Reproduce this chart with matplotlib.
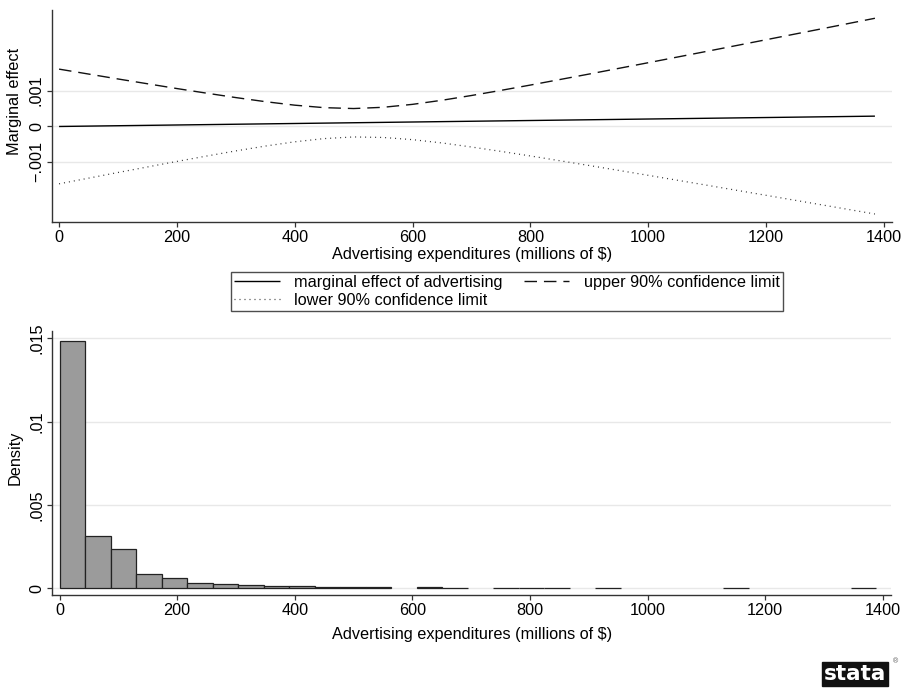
import matplotlib
matplotlib.use("Agg")
import matplotlib.pyplot as plt
import numpy as np

plt.rcParams['font.family'] = ['Liberation Sans', 'DejaVu Sans']

# Marginal effect of advertising and its 90% confidence band
adv = [0, 100, 200, 250, 300, 350, 400, 450, 500, 550, 600, 650, 700, 750,
       800, 900, 1000, 1100, 1200, 1300, 1385]
marginal = [-0.000010, 0.000011, 0.000032, 0.0000425, 0.000053, 0.0000635,
            0.000074, 0.0000845, 0.000095, 0.0001055, 0.000116, 0.0001265,
            0.000137, 0.0001475, 0.000158, 0.000179, 0.000200, 0.000221,
            0.000242, 0.000263, 0.000281]
upper = [0.001605, 0.001328, 0.001058, 0.000929, 0.000804, 0.000689, 0.000590,
         0.000520, 0.000495, 0.000530, 0.000613, 0.000728, 0.000862, 0.001006,
         0.001156, 0.001467, 0.001785, 0.002107, 0.002432, 0.002758, 0.003037]
lower = [-0.001625, -0.001306, -0.000994, -0.000844, -0.000698, -0.000562,
         -0.000442, -0.000351, -0.000305, -0.000319, -0.000381, -0.000474,
         -0.000588, -0.000711, -0.000840, -0.001109, -0.001385, -0.001665,
         -0.001948, -0.002232, -0.002475]

# Histogram of advertising expenditures (32 bins)
bin_width = 43.4
density = [0.01486, 0.00316, 0.00234, 0.00084, 0.00060, 0.00030, 0.00024,
           0.00018, 0.00012, 0.00012, 0.00006, 0.00006, 0.00006, 0.0,
           0.00008, 0.00004, 0.0, 0.00004, 0.00004, 0.00004, 0.0, 0.00003,
           0.0, 0.0, 0.0, 0.0, 0.00003, 0.0, 0.0, 0.0, 0.0, 0.00003]

x_ticks = [0, 200, 400, 600, 800, 1000, 1200, 1400]
me_ticks = [-0.001, 0, 0.001]
me_ticklabels = ['\u2212.001', '0', '.001']
dens_ticks = [0, 0.005, 0.01, 0.015]
dens_ticklabels = ['0', '.005', '.01', '.015']
xlabel = 'Advertising expenditures (millions of $)'

W, H = 912, 688
fig = plt.figure(figsize=(W / 100, H / 100), dpi=100)
fig.patch.set_facecolor('white')

FS = 11.7
AX_COL = '#333333'
GRID_COL = '#e8e8e8'


def style_axes(ax):
    for s in ('top', 'right'):
        ax.spines[s].set_visible(False)
    for s in ('left', 'bottom'):
        ax.spines[s].set_color(AX_COL)
        ax.spines[s].set_linewidth(1.0)
    ax.tick_params(axis='both', direction='out', length=3.8, width=0.9,
                   color=AX_COL, labelsize=FS, labelcolor='black')
    ax.tick_params(axis='x', pad=2.0)
    ax.tick_params(axis='y', pad=2.0)
    ax.yaxis.grid(True, color=GRID_COL, linewidth=1.0)
    ax.xaxis.grid(False)
    ax.set_axisbelow(True)


def px_axes(l, t, r, b):
    return fig.add_axes([l / W, 1 - b / H, (r - l) / W, (b - t) / H])


# ---- top panel: marginal effect ----
ax1 = px_axes(52, 10, 892, 222)
style_axes(ax1)
l_me, = ax1.plot(adv, marginal, color='black', lw=1.0, solid_capstyle='butt')
l_up, = ax1.plot(adv, upper, color='#111111', lw=1.0, linestyle=(0, (9, 5)))
l_lo, = ax1.plot(adv, lower, color='#333333', lw=0.9, linestyle=(0, (0.8, 3.2)))
ax1.set_xlim(-12, 1414)
ax1.set_ylim(-0.0027, 0.00327)
ax1.set_xticks(x_ticks)
ax1.set_yticks(me_ticks)
ax1.set_yticklabels(me_ticklabels, rotation=90, va='center')
fig.text(472 / W, 1 - 255 / H, xlabel, ha='center', va='center', fontsize=FS)
fig.text(15 / W, 1 - 101 / H, 'Marginal effect', ha='center', va='center',
         rotation=90, fontsize=FS)

# legend
leg = fig.legend([l_me, l_lo, l_up],
                 ['marginal effect of advertising', 'lower 90% confidence limit',
                  'upper 90% confidence limit'],
                 loc='center', bbox_to_anchor=(507 / W, 1 - 291.5 / H),
                 ncol=2, fontsize=FS, frameon=True, fancybox=False,
                 handlelength=2.8, handletextpad=0.9, columnspacing=1.3,
                 labelspacing=0.2, borderpad=0.2, borderaxespad=0)
leg.get_frame().set_edgecolor('#222222')
leg.get_frame().set_linewidth(1.0)

# ---- bottom panel: histogram (empty bins are not drawn) ----
ax2 = px_axes(52.5, 331, 891, 595)
style_axes(ax2)
left_edges = np.arange(len(density)) * bin_width
filled = [i for i, d in enumerate(density) if d > 0]
ax2.bar([left_edges[i] for i in filled], [density[i] for i in filled],
        width=bin_width, align='edge',
        facecolor='#9b9b9b', edgecolor='#222222', linewidth=0.9, zorder=2)
ax2.set_xlim(-12, 1414)
ax2.set_ylim(-0.0004, 0.01544)
ax2.set_xticks(x_ticks)
ax2.set_yticks(dens_ticks)
ax2.set_yticklabels(dens_ticklabels, rotation=90, va='center')
fig.text(472 / W, 1 - 634 / H, xlabel, ha='center', va='center', fontsize=FS)
fig.text(15 / W, 1 - 458 / H, 'Density', ha='center', va='center',
         rotation=90, fontsize=FS)

# logo
fig.text(855 / W, 1 - 674 / H, 'stata', ha='center', va='center',
         fontsize=15.5, fontweight='bold', color='white', family='DejaVu Sans',
         bbox=dict(boxstyle='square,pad=0.1', facecolor='#111111',
                   edgecolor='#111111'))
fig.text(896 / W, 1 - 662 / H, '\u00ae', ha='center', va='center',
         fontsize=5, color='#555555')

fig.savefig('out.png', dpi=100, facecolor='white')
